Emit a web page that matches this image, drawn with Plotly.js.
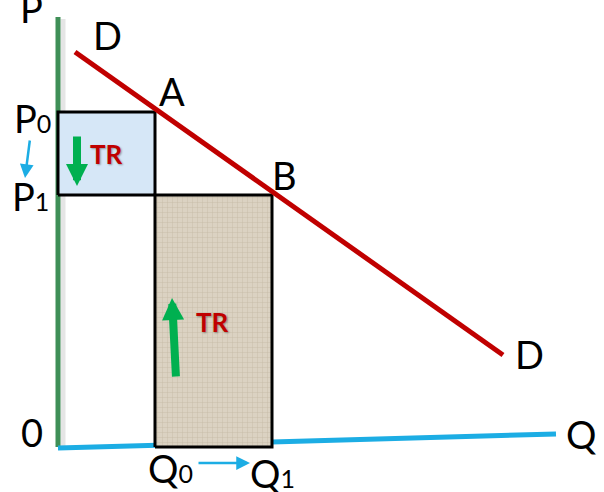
<!DOCTYPE html>
<html>
<head>
<meta charset="utf-8">
<script src="https://cdn.plot.ly/plotly-3.0.1.min.js"></script>
<style>
  html, body { margin: 0; padding: 0; background: #fff; }
  #chart { width: 604px; height: 492px; }
</style>
</head>
<body>
<div id="chart"></div>
<script>
// quantities / prices (1 unit = 10px)
const priceAxisTop = 43;
const qtyAxisEnd = [49.8, 1.3];
const q0 = 9.7;
const q1 = 21.4;
const p0 = 33.5;
const p1 = 25.2;
const demandQ = [1.7, 44.5];
const demandP = [39.5, 9.2];

const FONT = 'Lato, "Open Sans", sans-serif';
const GREEN = '#3f8f57';
const BLUE = '#1cade4';
const RED = '#c00000';
const ARROW_GREEN = '#00b050';

const data = [
  // axis shadow
  {
    x: [0.5, 0.5], y: [-0.2, priceAxisTop - 0.2],
    mode: 'lines', line: { color: 'rgba(0,0,0,0.10)', width: 5 }
  },
  // price axis
  {
    x: [0, 0], y: [0, priceAxisTop],
    mode: 'lines', line: { color: GREEN, width: 5 }
  },
  // quantity axis
  {
    x: [0, qtyAxisEnd[0]], y: [-0.1, qtyAxisEnd[1]],
    mode: 'lines', line: { color: BLUE, width: 5 }
  },
  // TR before: P0 x Q0
  {
    x: [0, q0, q0, 0, 0], y: [p1, p1, p0, p0, p1],
    mode: 'lines', fill: 'toself', fillcolor: '#d6e7f7',
    line: { color: '#000', width: 3 }
  },
  // TR gained: P1 x (Q1 - Q0)
  {
    x: [q0, q1, q1, q0, q0], y: [0, 0, p1, p1, 0],
    mode: 'lines', fill: 'toself',
    fillpattern: { shape: '+', bgcolor: '#dbd2c2', fgcolor: '#c4b9a5', size: 5, solidity: 0.15 },
    line: { color: '#000', width: 3 }
  },
  // demand curve
  {
    x: demandQ, y: demandP,
    mode: 'lines', line: { color: RED, width: 5 }
  }
];

function label(x, y, text, size, extra) {
  return Object.assign({
    x: x, y: y, xref: 'x', yref: 'y', text: text, showarrow: false,
    xanchor: 'center', yanchor: 'middle',
    font: { family: FONT, size: size || 38, color: '#000' }
  }, extra || {});
}

function arrow(tail, tip, color, width, size) {
  return {
    x: tip[0], y: tip[1], ax: tail[0], ay: tail[1],
    xref: 'x', yref: 'y', axref: 'x', ayref: 'y',
    text: '', showarrow: true, arrowhead: 2,
    arrowcolor: color, arrowwidth: width, arrowsize: size, standoff: 0
  };
}

const sub = s => '<span style="font-size:25px">' + s + '</span>';
const trFont = { family: FONT, size: 26, color: RED, weight: 'bold', shadow: '1px 1px 2px rgba(0,0,0,0.35)' };

const annotations = [
  // axis title, partly above the top edge
  label(-2.7, 1, 'P', 38, { yref: 'paper', yshift: -8 }),
  label(4.9, 41.2, 'D'),
  label(11.4, 35.6, 'A'),
  label(22.6, 27.2, 'B'),
  label(-2.6, p0 - 0.6, 'P' + sub('0')),
  label(-2.8, p1 - 0.1, 'P' + sub('1')),
  label(-2.6, 1.5, '0'),
  label(52.3, 1.3, 'Q'),
  label(47.1, 9.3, 'D'),
  label(q0 + 1.5, -2.1, 'Q' + sub('0')),
  label(q1, -2.6, 'Q' + sub('1')),
  label(4.8, 29.3, 'TR', 26, { font: trFont }),
  label(15.4, 12.5, 'TR', 26, { font: trFont }),
  arrow([1.9, 31.2], [1.9, 26.1], ARROW_GREEN, 8, 0.55),
  arrow([11.8, 6.9], [11.4, 14.9], ARROW_GREEN, 8, 0.55),
  arrow([-2.8, 30.8], [-3.3, 26.9], BLUE, 2.5, 1.1),
  arrow([13.9, -1.6], [19.2, -1.6], BLUE, 2.5, 1.1)
];

const hidden = { showgrid: false, zeroline: false, showticklabels: false, showline: false, ticks: '', fixedrange: true };

const layout = {
  width: 604,
  height: 492,
  margin: { l: 0, r: 0, t: 0, b: 0 },
  paper_bgcolor: '#fff',
  plot_bgcolor: '#fff',
  showlegend: false,
  hovermode: false,
  xaxis: Object.assign({ range: [-5.8, 54.6] }, hidden),
  yaxis: Object.assign({ range: [-4.5, 44.7] }, hidden),
  annotations: annotations
};

Plotly.newPlot('chart', data, layout, { displayModeBar: false, staticPlot: true });
</script>
</body>
</html>
